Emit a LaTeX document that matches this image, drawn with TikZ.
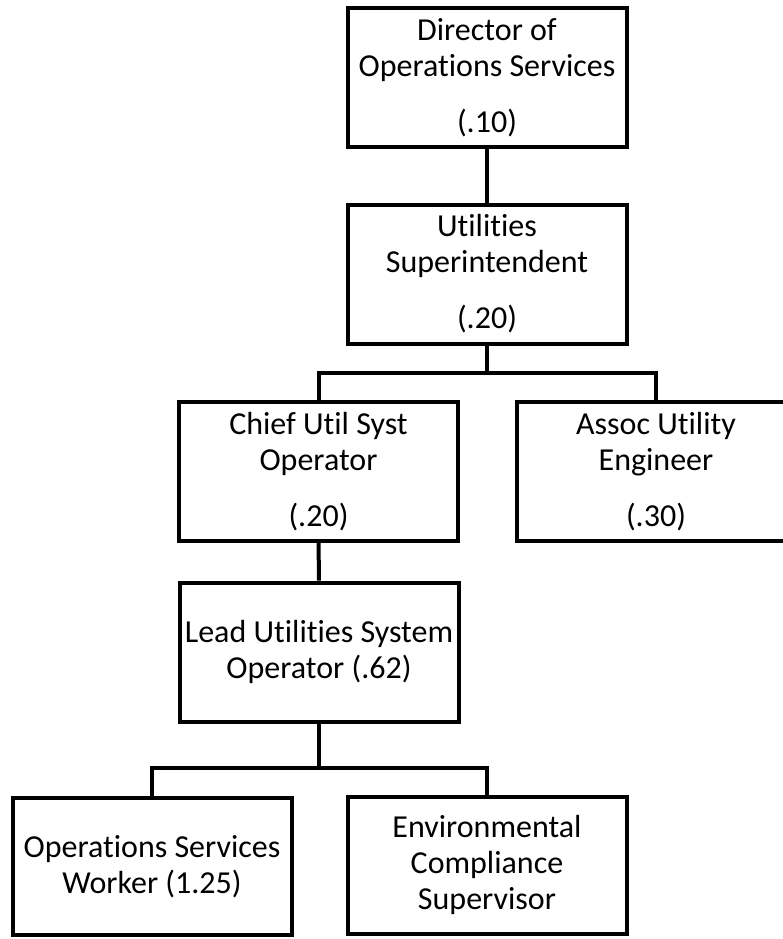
\documentclass[tikz,border=0pt]{standalone}
\usepackage{fontspec}
\setmainfont{Carlito}[RawFeature=-liga, RawFeature=-calt, RawFeature=-dlig]
\usepackage{tikz}
\usetikzlibrary{positioning,calc}

\begin{document}
\begin{tikzpicture}[
    x=1pt, y=-1pt,
    post/.style={rectangle, draw, line width=4pt, fill=white, minimum width=279pt, minimum height=139pt, inner sep=0pt, align=center, font=\fontsize{32}{36}\selectfont},
    lowpost/.style={post, minimum height=137pt},
    link/.style={line width=4pt}
]
\useasboundingbox (0,0) rectangle (783,939);
\clip (0,0) rectangle (783,939);

% Top of the chart
\node[post] (director) at (487,77.5) {Director of\\Operations Services\\[20pt](.10)};

\node[post] (super) at (487,274) {Utilities\\Superintendent\\[20pt](.20)};

% Second level
\node[post] (chief) at (318.5,471.5) {Chief Util Syst\\Operator\\[20pt](.20)};

\node[post] (assoc) at (656,471.5) {Assoc Utility\\Engineer\\[20pt](.30)};

\node[post] (lead) at (319,652) {Lead Utilities System\\Operator (.62)};

% Bottom level
\node[lowpost] (worker) at (152,866.5) {Operations Services\\Worker (1.25)};

\node[lowpost] (enviro) at (487,865) {Environmental\\Compliance\\Supervisor};

% Branch points
\coordinate (forkA) at (487,373);
\coordinate (forkB) at (319,768);

% Connectors
\draw[link] (director) -- (super);
\draw[link] (super) -- (forkA);
\draw[link] (forkA) -| (chief.north);
\draw[link] (forkA) -| (assoc.north);
\draw[link] (chief) -- (lead);
\draw[link] (lead) -- (forkB);
\draw[link] (forkB) -| (worker.north);
\draw[link] (forkB) -| (enviro.north);

\end{tikzpicture}
\end{document}
